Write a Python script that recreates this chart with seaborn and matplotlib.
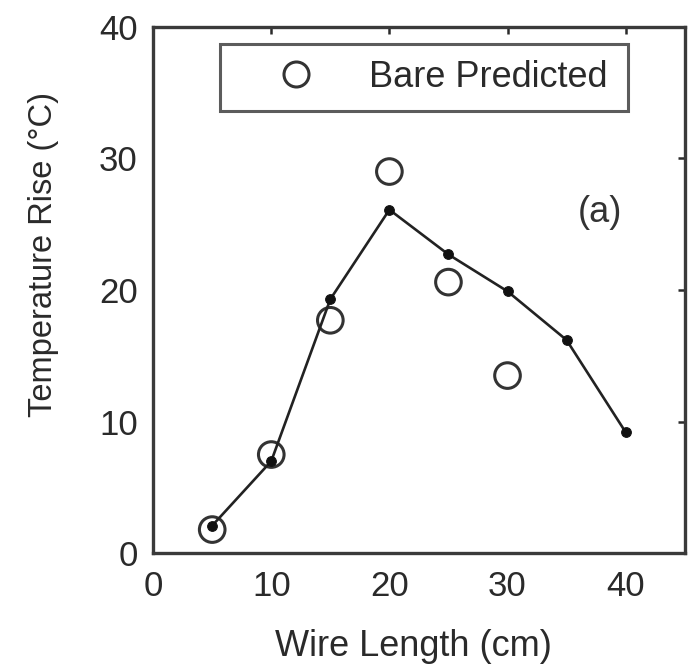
import matplotlib
matplotlib.use("Agg")
import matplotlib.pyplot as plt
import seaborn as sns
import pandas as pd
from matplotlib.lines import Line2D

# Data
measured_length = [5, 10, 15, 20, 25, 30, 35, 40]
measured_rise = [2.1, 7.0, 19.3, 26.1, 22.7, 19.9, 16.2, 9.2]
predicted_length = [5, 10, 15, 20, 25, 30]
predicted_rise = [1.8, 7.5, 17.7, 29.0, 20.6, 13.5]
x_ticks = [0, 10, 20, 30, 40]
y_ticks = [0, 10, 20, 30, 40]

sns.set_theme(style="white")
plt.rcParams['font.family'] = ['Liberation Sans', 'DejaVu Sans']

TXT = "#2a2a2a"

fig = plt.figure(figsize=(6.93, 6.69), dpi=100)
ax = fig.add_axes([0.221, 0.173, 0.767, 0.787])

df_m = pd.DataFrame({"x": measured_length, "y": measured_rise})
df_p = pd.DataFrame({"x": predicted_length, "y": predicted_rise})

sns.lineplot(data=df_m, x="x", y="y", ax=ax, color="#222222", linewidth=1.9,
             marker="o", markersize=7, markeredgecolor="#111111",
             markerfacecolor="#111111")
sns.scatterplot(data=df_p, x="x", y="y", ax=ax, s=340, marker="o",
                facecolor="none", edgecolor="#333333", linewidth=2.2)

ax.set_xlim(0, 45)
ax.set_ylim(0, 40)
ax.set_xticks(x_ticks)
ax.set_yticks(y_ticks)
ax.tick_params(axis="both", which="both", direction="in", length=5, width=1.8,
               top=True, right=True, labelsize=25, colors=TXT)
ax.tick_params(axis="x", pad=12)
ax.tick_params(axis="y", pad=11)
for sp in ax.spines.values():
    sp.set_linewidth(2.4)
    sp.set_color("#3a3a3a")

ax.set_xlabel("Wire Length (cm)", fontsize=26, color=TXT)
ax.set_ylabel("Temperature Rise (°C)", fontsize=23.5, color=TXT)
ax.xaxis.set_label_coords(0.49, -0.178)
ax.yaxis.set_label_coords(-0.207, 0.567)
ax.xaxis.label.set_va("center")
ax.yaxis.label.set_va("center")

ax.text(37.8, 25.9, "(a)", fontsize=26, color="#333333", ha="center", va="center")

handle = Line2D([], [], linestyle="none", marker="o", markersize=18,
                markerfacecolor="none", markeredgecolor="#333333", markeredgewidth=2.2)
leg = ax.legend([handle], ["Bare Predicted"], loc="upper left",
                bbox_to_anchor=(0.126, 0.840, 0.767, 0.128), mode="expand",
                fontsize=26, frameon=True, fancybox=False, edgecolor="#333333",
                handletextpad=0.36, handlelength=3.3, borderpad=0.45,
                borderaxespad=0.0)
leg.get_frame().set_linewidth(2.2)
for t in leg.get_texts():
    t.set_color(TXT)

fig.savefig("out.png", dpi=100)
